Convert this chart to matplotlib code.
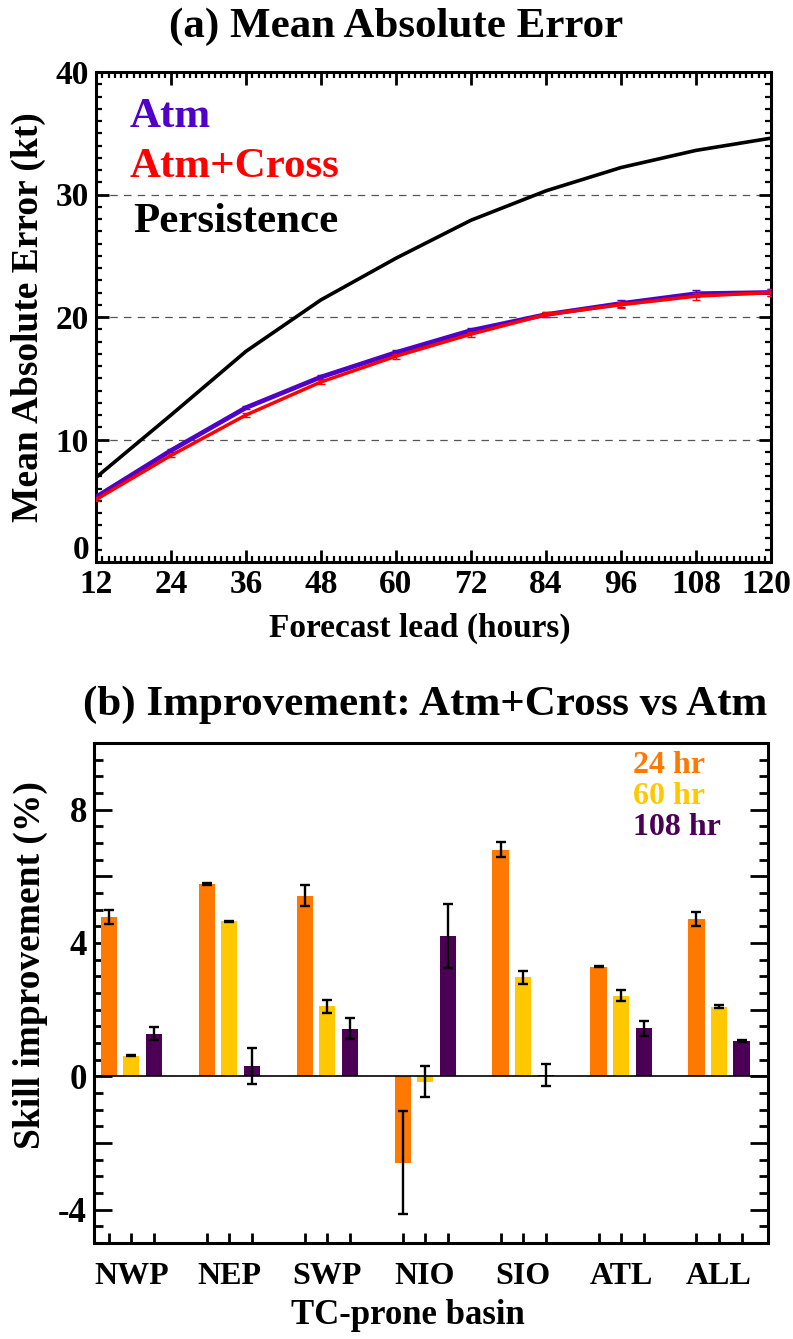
import matplotlib
matplotlib.use("Agg")
import matplotlib.pyplot as plt
import numpy as np
from matplotlib.ticker import MultipleLocator, FixedLocator, FuncFormatter
from matplotlib.transforms import ScaledTranslation

# ---------------- data (a) ----------------
lead_hours = [12, 24, 36, 48, 60, 72, 84, 96, 108, 120]
mae_atm = [5.3, 9.1, 12.6, 15.1, 17.1, 18.9, 20.2, 21.1, 21.9, 22.0]
mae_atm_cross = [5.1, 8.7, 12.0, 14.7, 16.8, 18.6, 20.2, 21.0, 21.7, 22.0]
mae_persistence = [6.9, 12.0, 17.2, 21.4, 24.8, 27.9, 30.3, 32.2, 33.6, 34.6]
err_atm = [0.1, 0.12, 0.15, 0.18, 0.2, 0.2, 0.22, 0.25, 0.28, 0.3]
err_atm_cross = [0.1, 0.12, 0.15, 0.18, 0.2, 0.2, 0.22, 0.25, 0.28, 0.3]

# ---------------- data (b) ----------------
basins = ["NWP", "NEP", "SWP", "NIO", "SIO", "ATL", "ALL"]
imp_24 = [4.78, 5.76, 5.42, -2.59, 6.80, 3.29, 4.73]
imp_60 = [0.62, 4.65, 2.10, -0.16, 2.97, 2.42, 2.09]
imp_108 = [1.28, 0.31, 1.43, 4.21, 0.05, 1.44, 1.07]
err_24 = [0.22, 0.03, 0.31, 1.54, 0.22, 0.02, 0.21]
err_60 = [0.02, 0.02, 0.20, 0.46, 0.19, 0.16, 0.04]
err_108 = [0.19, 0.53, 0.31, 0.96, 0.33, 0.23, 0.03]
lead_labels = ["24 hr", "60 hr", "108 hr"]

C_ATM = "#5000c8"
C_CROSS = "#ff0000"
C24 = "#ff7800"
C60 = "#ffc800"
C108 = "#4b0055"

plt.rcParams['font.family'] = ['Liberation Serif', 'DejaVu Serif']
plt.rcParams['font.weight'] = 'bold'

W, H = 793, 1339
fig = plt.figure(figsize=(W/100, H/100), dpi=100)

def ax_rect(l, t, r, b):
    return [l/W, 1 - b/H, (r-l)/W, (b-t)/H]

# ---------------- panel (a) ----------------
ax = fig.add_axes(ax_rect(96, 72, 771, 562))
x = np.array(lead_hours)
ax.plot(x, mae_persistence, color='black', lw=2.6, zorder=3)
ax.errorbar(x, mae_atm, yerr=err_atm, color=C_ATM, lw=3.4, capsize=3,
            elinewidth=1, zorder=4)
ax.errorbar(x, mae_atm_cross, yerr=err_atm_cross, color=C_CROSS, lw=2.5,
            capsize=3, elinewidth=1, zorder=5)
for yv in [10, 20, 30]:
    ax.axhline(yv, color='#555555', lw=0.9, ls=(0, (6, 5)), zorder=1)
ax.set_xlim(12, 120)
ax.set_ylim(0, 40)
ax.xaxis.set_major_locator(FixedLocator(lead_hours))
ax.xaxis.set_minor_locator(MultipleLocator(1))
ax.yaxis.set_major_locator(MultipleLocator(10))
ax.yaxis.set_minor_locator(MultipleLocator(1))
ax.tick_params(which='both', direction='in', top=True, right=True, width=2)
ax.tick_params(which='major', length=9, labelsize=24, pad=5)
ax.tick_params(which='minor', length=4.5, width=1.6)
for s in ax.spines.values():
    s.set_linewidth(2.2)
ax.set_xlabel("Forecast lead (hours)", fontsize=24, fontweight='bold')
ax.xaxis.set_label_coords(0.48, -0.135)
ax.xaxis.label.set_va('center')
ax.set_ylabel("Mean Absolute Error (kt)", fontsize=27, fontweight='bold')
ax.yaxis.set_label_coords(-0.1, 0.5)
ax.yaxis.label.set_va('center')
fig.text(396/W, 1 - 27/H, "(a) Mean Absolute Error", fontsize=31,
         fontweight='bold', ha='center', va='center')
ax.text(0.05, 0.908, "Atm", transform=ax.transAxes, color=C_ATM,
        fontsize=31, fontweight='bold', va='center')
ax.text(0.05, 0.806, "Atm+Cross", transform=ax.transAxes, color=C_CROSS,
        fontsize=31, fontweight='bold', va='center')
ax.text(0.055, 0.694, "Persistence", transform=ax.transAxes, color='black',
        fontsize=31, fontweight='bold', va='center')

# ---------------- panel (b) ----------------
bx = fig.add_axes(ax_rect(94, 743, 768, 1243))
gx = np.arange(len(basins))
off = 0.23
bw = 0.165
ekw = dict(ecolor='black', elinewidth=1.7, capsize=3.5, capthick=1.7)
bx.bar(gx - off, imp_24, width=bw, color=C24, yerr=err_24, error_kw=ekw, zorder=2)
bx.bar(gx, imp_60, width=bw, color=C60, yerr=err_60, error_kw=ekw, zorder=2)
bx.bar(gx + off, imp_108, width=bw, color=C108, yerr=err_108, error_kw=ekw, zorder=2)
bx.axhline(0, color='black', lw=1.2, zorder=3)
bx.set_xlim(-0.38, 6.5)
bx.set_ylim(-5, 10)
bx.set_xticks(gx)
bx.set_xticklabels(basins)
bx.xaxis.set_minor_locator(FixedLocator(np.concatenate([gx - off, gx + off])))
bx.yaxis.set_major_locator(MultipleLocator(2))
bx.yaxis.set_minor_locator(MultipleLocator(0.5))
bx.yaxis.set_major_formatter(FuncFormatter(
    lambda v, p: f"{int(round(v))}" if abs(v) % 4 < 1e-6 else ""))
bx.tick_params(which='both', direction='in', right=True, top=False, width=2)
bx.tick_params(axis='y', which='major', length=13, labelsize=25, pad=5)
bx.tick_params(axis='y', which='minor', length=6.5)
bx.tick_params(axis='x', which='both', length=7, labelsize=23, pad=14)
for s in bx.spines.values():
    s.set_linewidth(2.2)
bx.set_xlabel("TC-prone basin", fontsize=25, fontweight='bold')
bx.xaxis.set_label_coords(0.466, -0.144)
bx.xaxis.label.set_va('center')
bx.set_ylabel("Skill improvement (%)", fontsize=27, fontweight='bold')
bx.yaxis.set_label_coords(-0.095, 0.556)
bx.yaxis.label.set_va('center')
fig.text(425/W, 1 - 705/H, "(b) Improvement: Atm+Cross vs Atm", fontsize=31,
         fontweight='bold', ha='center', va='center')
for i, (lab, c) in enumerate(zip(lead_labels, [C24, C60, C108])):
    bx.text(0.80, 0.955 - i*0.062, lab, transform=bx.transAxes, color=c,
            fontsize=23, fontweight='bold', va='center', ha='left')

# nudge labels as in the reference
fig.canvas.draw()
for t in ax.yaxis.get_major_ticks():
    if t.label1.get_text() == '0':
        t.label1.set_transform(t.label1.get_transform() +
                               ScaledTranslation(0, 0.15, fig.dpi_scale_trans))
for t in ax.xaxis.get_major_ticks():
    if t.label1.get_text() == '120':
        t.label1.set_transform(t.label1.get_transform() +
                               ScaledTranslation(-0.05, 0, fig.dpi_scale_trans))

fig.savefig("out.png", dpi=100)
